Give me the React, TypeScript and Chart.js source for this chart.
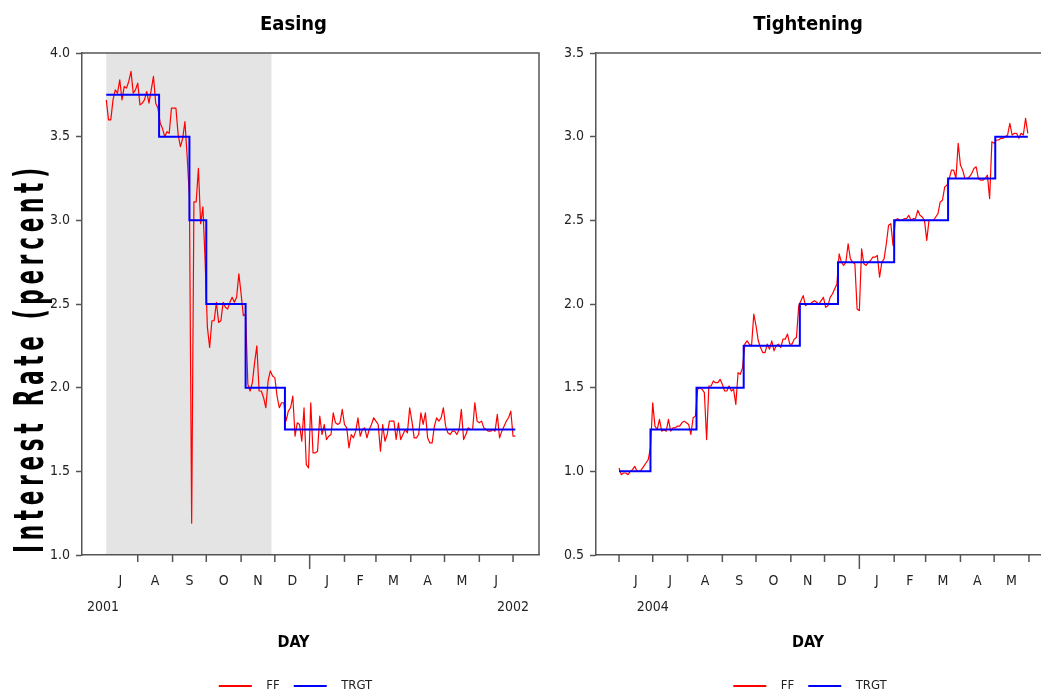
import React, { useEffect, useRef } from 'react';
import { Chart, registerables } from 'chart.js';

Chart.register(...registerables);

const FONT = "'Liberation Sans Narrow', 'Arial Narrow', 'DejaVu Sans Condensed', 'Liberation Sans', sans-serif";
Chart.defaults.font.family = FONT;

const AXIS = '#555555';
const RED = '#ff0000';
const BLUE = '#0000ff';

// ---------------- Easing panel: x = days since 1 Jul 2001 ----------------
const easeTitle = 'Easing';
const easeFFStartDay = 3;
const easeFFStepDays = 2;
const easeFF = [
  3.72, 3.60, 3.60, 3.72, 3.78, 3.76, 3.84, 3.72, 3.80, 3.79,
  3.83, 3.89, 3.76, 3.78, 3.82, 3.69, 3.70, 3.72, 3.77, 3.70,
  3.78, 3.86, 3.70, 3.67, 3.58, 3.55, 3.50, 3.53, 3.52, 3.67,
  3.67, 3.67, 3.51, 3.44, 3.49, 3.59, 3.38, 3.14, 1.19, 3.11,
  3.11, 3.31, 2.98, 3.08, 2.75, 2.36, 2.24, 2.40, 2.40, 2.51,
  2.39, 2.40, 2.51, 2.48, 2.47, 2.51, 2.54, 2.51, 2.54, 2.68,
  2.56, 2.43, 2.44, 2.02, 1.98, 2.03, 2.15, 2.25, 1.98, 1.98,
  1.94, 1.88, 2.04, 2.10, 2.07, 2.06, 1.95, 1.88, 1.91, 1.91,
  1.80, 1.86, 1.88, 1.95, 1.71, 1.79, 1.78, 1.68, 1.88, 1.54,
  1.52, 1.91, 1.61, 1.61, 1.62, 1.83, 1.72, 1.78, 1.69, 1.71,
  1.72, 1.85, 1.79, 1.78, 1.79, 1.87, 1.78, 1.76, 1.64, 1.72,
  1.70, 1.74, 1.82, 1.71, 1.75, 1.76, 1.70, 1.75, 1.78, 1.82,
  1.80, 1.78, 1.62, 1.78, 1.68, 1.72, 1.80, 1.80, 1.80, 1.69,
  1.79, 1.69, 1.72, 1.75, 1.73, 1.88, 1.80, 1.70, 1.70, 1.72,
  1.85, 1.78, 1.85, 1.70, 1.67, 1.67, 1.77, 1.82, 1.80, 1.82,
  1.88, 1.77, 1.73, 1.72, 1.74, 1.74, 1.72, 1.75, 1.87, 1.69,
  1.72, 1.76, 1.75, 1.75, 1.91, 1.80, 1.79, 1.80, 1.76, 1.75,
  1.74, 1.74, 1.75, 1.74, 1.84, 1.70, 1.74, 1.77, 1.80, 1.82,
  1.86, 1.71, 1.71,
];
const easeTrgtDays = [3, 50, 77, 92, 127, 162, 367];
const easeTrgtLevels = [3.75, 3.5, 3.0, 2.5, 2.0, 1.75, 1.75];
const easeShadeDays = [3, 150];
const easeMonthBounds = [0, 31, 62, 92, 123, 153, 184, 215, 243, 274, 304, 335, 365];
const easeMonthLetters = ['J', 'A', 'S', 'O', 'N', 'D', 'J', 'F', 'M', 'A', 'M', 'J'];
const easeTickDays = [31, 62, 92, 123, 153, 184, 215, 243, 274, 304, 335, 365];
const easeYearTickDay = 184;
const easeYearLabels = ['2001', '2002'];
const easeYearLabelDays = [0, 365];

// ---------------- Tightening panel: x = days since 1 Jun 2004 ----------------
const tightTitle = 'Tightening';
const tightFFStartDay = 0;
const tightFFStepDays = 2;
const tightFF = [
  1.02, 0.98, 0.99, 0.99, 0.98, 1.00, 1.01, 1.03, 1.00, 1.00,
  1.01, 1.03, 1.05, 1.07, 1.14, 1.41, 1.27, 1.25, 1.31, 1.24,
  1.25, 1.24, 1.31, 1.24, 1.26, 1.26, 1.27, 1.27, 1.29, 1.30,
  1.29, 1.28, 1.22, 1.32, 1.33, 1.49, 1.50, 1.49, 1.47, 1.19,
  1.51, 1.51, 1.54, 1.53, 1.53, 1.55, 1.52, 1.48, 1.48, 1.51,
  1.48, 1.49, 1.40, 1.59, 1.58, 1.62, 1.76, 1.78, 1.76, 1.75,
  1.94, 1.87, 1.78, 1.74, 1.71, 1.71, 1.76, 1.73, 1.78, 1.72,
  1.75, 1.76, 1.74, 1.79, 1.79, 1.82, 1.76, 1.76, 1.79, 1.80,
  1.99, 2.02, 2.05, 1.99, 2.00, 2.00, 2.01, 2.02, 2.01, 2.00,
  2.02, 2.04, 1.98, 1.99, 2.04, 2.06, 2.09, 2.12, 2.30, 2.25,
  2.23, 2.25, 2.36, 2.27, 2.25, 2.24, 1.97, 1.96, 2.33, 2.24,
  2.23, 2.25, 2.26, 2.28, 2.28, 2.29, 2.16, 2.25, 2.27, 2.36,
  2.47, 2.48, 2.35, 2.50, 2.51, 2.50, 2.50, 2.51, 2.51, 2.53,
  2.50, 2.51, 2.51, 2.56, 2.53, 2.52, 2.50, 2.38, 2.50, 2.50,
  2.50, 2.52, 2.54, 2.61, 2.62, 2.70, 2.71, 2.75, 2.80, 2.80,
  2.75, 2.96, 2.83, 2.80, 2.75, 2.75, 2.76, 2.78, 2.81, 2.82,
  2.75, 2.74, 2.74, 2.75, 2.77, 2.63, 2.97, 2.96, 2.98, 2.98,
  2.99, 2.99, 3.00, 3.01, 3.08, 3.01, 3.02, 3.02, 2.99, 3.02,
  3.01, 3.11, 3.02,
];
const tightTrgtDays = [0, 28, 69, 111, 161, 195, 245, 293, 335, 364];
const tightTrgtLevels = [1.0, 1.25, 1.5, 1.75, 2.0, 2.25, 2.5, 2.75, 3.0, 3.0];
const tightMonthBounds = [0, 30, 61, 92, 122, 153, 183, 214, 245, 273, 304, 334, 365];
const tightMonthLetters = ['J', 'J', 'A', 'S', 'O', 'N', 'D', 'J', 'F', 'M', 'A', 'M'];
const tightTickDays = [0, 30, 61, 92, 122, 153, 183, 214, 245, 273, 304, 334, 365];
const tightYearTickDay = 214;
const tightYearLabels = ['2004'];
const tightYearLabelDays = [30];

const yAxisLabel = 'Interest Rate (percent)';

const easePanel = {
  title: easeTitle, ff: easeFF, ffStart: easeFFStartDay, ffStep: easeFFStepDays,
  trgtDays: easeTrgtDays, trgtLevels: easeTrgtLevels, shade: easeShadeDays,
  bounds: easeMonthBounds, letters: easeMonthLetters, tickDays: easeTickDays, yearTick: easeYearTickDay,
  yearLabels: easeYearLabels, yearDays: easeYearLabelDays,
  yMin: 1.0, yMax: 4.0, xMin: -18.6, xMax: 388.1,
  canvasLeft: 0, canvasW: 591, padLeft: 48, padRight: 52, yWidth: 34, yLabel: true,
};
const tightPanel = {
  title: tightTitle, ff: tightFF, ffStart: tightFFStartDay, ffStep: tightFFStepDays,
  trgtDays: tightTrgtDays, trgtLevels: tightTrgtLevels, shade: null,
  bounds: tightMonthBounds, letters: tightMonthLetters, tickDays: tightTickDays, yearTick: tightYearTickDay,
  yearLabels: tightYearLabels, yearDays: tightYearLabelDays,
  yMin: 0.5, yMax: 3.5, xMin: -20.5, xMax: 388.2,
  canvasLeft: 545, canvasW: 513, padLeft: 16, padRight: 3, yWidth: 35, yLabel: false,
};

const CANVAS_H = 710;

const swatchCache: Record<string, HTMLCanvasElement> = {};
function legendSwatch(color: string) {
  if (swatchCache[color]) return swatchCache[color];
  const c = document.createElement('canvas');
  c.width = 45;
  c.height = 4;
  const g = c.getContext('2d')!;
  g.strokeStyle = color;
  g.lineWidth = 2;
  g.beginPath();
  g.moveTo(4, 2);
  g.lineTo(37, 2);
  g.stroke();
  swatchCache[color] = c;
  return c;
}

function drawYLabel(ctx: CanvasRenderingContext2D) {
  const text = yAxisLabel;
  ctx.save();
  ctx.font = `bold 24px ${FONT}`;
  const chars = Array.from(text);
  const widths = chars.map((ch) => ctx.measureText(ch).width);
  const natural = widths.reduce((s, w) => s + w, 0);
  const total = 385;
  const gap = (total - natural) / (chars.length - 1);
  ctx.translate(43, 553);
  ctx.rotate(-Math.PI / 2);
  ctx.scale(1, 1.7);
  ctx.fillStyle = '#000';
  ctx.textAlign = 'left';
  ctx.textBaseline = 'alphabetic';
  let pos = 0;
  chars.forEach((ch, i) => {
    ctx.fillText(ch, pos, 0);
    pos += widths[i] + gap;
  });
  ctx.restore();
}

function makeChart(canvas: HTMLCanvasElement, p: any) {
  const ffPoints = p.ff.map((v: number, i: number) => ({ x: p.ffStart + i * p.ffStep, y: v }));
  const trgtPoints = p.trgtDays.map((d: number, i: number) => ({ x: d, y: p.trgtLevels[i] }));
  const mids = p.letters.map((_: string, i: number) => (p.bounds[i] + p.bounds[i + 1]) / 2);

  const decor = {
    id: 'decor',
    beforeDatasetsDraw(chart: any) {
      if (!p.shade) return;
      const { ctx, chartArea: a, scales } = chart;
      const x0 = scales.x.getPixelForValue(p.shade[0]);
      const x1 = scales.x.getPixelForValue(p.shade[1]);
      ctx.save();
      ctx.fillStyle = '#e4e4e4';
      ctx.fillRect(x0, a.top + 0.5, x1 - x0, a.bottom - a.top - 1.5);
      ctx.restore();
    },
    afterDraw(chart: any) {
      const { ctx, chartArea: a, scales } = chart;
      const xs = scales.x;
      ctx.save();
      ctx.strokeStyle = AXIS;
      ctx.lineWidth = 1.5;
      ctx.beginPath();
      ctx.moveTo(a.left, a.top);
      ctx.lineTo(a.right, a.top);
      ctx.lineTo(a.right, a.bottom);
      ctx.stroke();
      ctx.beginPath();
      p.tickDays.forEach((d: number) => {
        const px = xs.getPixelForValue(d);
        const len = d === p.yearTick ? 14 : 7;
        ctx.moveTo(px, a.bottom);
        ctx.lineTo(px, a.bottom + len);
      });
      ctx.stroke();
      ctx.font = `14px ${FONT}`;
      ctx.fillStyle = '#222';
      ctx.textAlign = 'center';
      ctx.textBaseline = 'middle';
      p.yearLabels.forEach((t: string, i: number) => {
        ctx.fillText(t, xs.getPixelForValue(p.yearDays[i]), 607);
      });
      ctx.restore();
      if (p.yLabel) drawYLabel(ctx);
    },
  };

  return new Chart(canvas, {
    type: 'line',
    data: {
      datasets: [
        {
          label: 'FF', data: ffPoints, borderColor: RED, backgroundColor: RED,
          borderWidth: 1.2, pointRadius: 0, tension: 0, borderJoinStyle: 'round', order: 2,
        },
        {
          label: 'TRGT', data: trgtPoints, borderColor: BLUE, backgroundColor: BLUE,
          borderWidth: 2, pointRadius: 0, stepped: 'before', order: 1,
        },
      ],
    },
    options: {
      animation: false,
      responsive: false,
      devicePixelRatio: 1,
      events: [],
      layout: { padding: { left: p.padLeft, right: p.padRight, top: 0, bottom: 7.5 } },
      plugins: {
        title: {
          display: true, text: p.title, color: '#000',
          font: { size: 20, weight: 'bold', family: FONT },
          padding: { top: 12.5, bottom: 16.5 },
        },
        subtitle: {
          display: true, text: 'DAY', position: 'bottom', weight: 500, color: '#000',
          font: { size: 16, weight: 'bold', family: FONT },
          padding: { top: 0.6, bottom: 16.9 },
        },
        legend: {
          display: true, position: 'bottom',
          labels: {
            usePointStyle: true, pointStyleWidth: 45, padding: 10,
            font: { size: 13, family: FONT }, color: '#222',
            generateLabels: (chart: any) => chart.data.datasets.map((ds: any, i: number) => ({
              text: ds.label, pointStyle: legendSwatch(ds.borderColor), datasetIndex: i,
              hidden: false, lineWidth: 0, strokeStyle: ds.borderColor, fillStyle: ds.borderColor,
              fontColor: '#222',
            })),
          },
        },
        tooltip: { enabled: false },
      },
      scales: {
        x: {
          type: 'linear', position: 'bottom', min: p.xMin, max: p.xMax,
          afterBuildTicks: (s: any) => { s.ticks = mids.map((v: number) => ({ value: v })); },
          afterFit: (s: any) => { s.height = 77.8; },
          ticks: {
            autoSkip: false, maxRotation: 0, minRotation: 0, padding: 17.6,
            font: { size: 14, family: FONT }, color: '#222',
            callback: (_v: any, i: number) => p.letters[i] ?? '',
          },
          grid: { display: false, drawTicks: false },
          border: { display: true, color: AXIS, width: 1.5 },
        },
        y: {
          type: 'linear', position: 'left', min: p.yMin, max: p.yMax,
          afterFit: (s: any) => { s.width = p.yWidth; },
          ticks: {
            stepSize: 0.5, padding: 6, font: { size: 14, family: FONT }, color: '#222',
            callback: (v: any) => Number(v).toFixed(1),
          },
          grid: {
            display: true, drawOnChartArea: false, drawTicks: true, tickLength: 6,
            color: AXIS, tickColor: AXIS, tickWidth: 1.5,
          },
          border: { display: true, color: AXIS, width: 1.5 },
        },
      },
    },
    plugins: [decor],
  } as any);
}

export default function App() {
  const leftRef = useRef<HTMLCanvasElement>(null);
  const rightRef = useRef<HTMLCanvasElement>(null);
  useEffect(() => {
    const c1 = makeChart(leftRef.current!, easePanel);
    const c2 = makeChart(rightRef.current!, tightPanel);
    return () => {
      c1.destroy();
      c2.destroy();
    };
  }, []);
  return (
    <div style={{ position: 'fixed', left: 0, top: 0, width: 1041, height: 694, overflow: 'hidden', background: '#fff' }}>
      <canvas ref={leftRef} width={easePanel.canvasW} height={CANVAS_H} style={{ position: 'absolute', left: easePanel.canvasLeft, top: 0 }} />
      <canvas ref={rightRef} width={tightPanel.canvasW} height={CANVAS_H} style={{ position: 'absolute', left: tightPanel.canvasLeft, top: 0 }} />
    </div>
  );
}
